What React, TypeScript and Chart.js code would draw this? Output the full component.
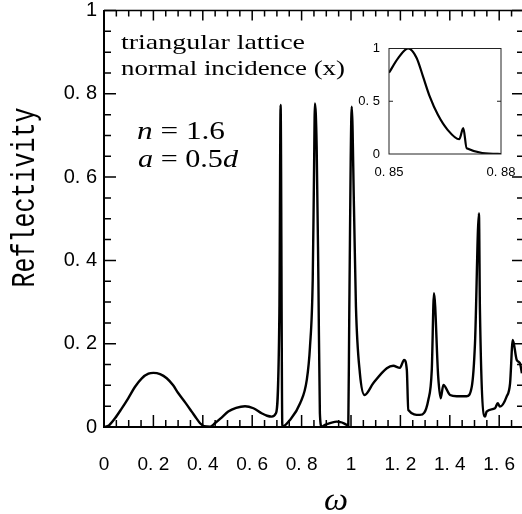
import React, { useEffect, useRef } from 'react';
import { Chart, registerables } from 'chart.js';

Chart.register(...registerables);

// ---- data ----
const mainOmega = [0, 0.02, 0.0445, 0.07, 0.098, 0.125, 0.153, 0.18, 0.2, 0.227, 0.254, 0.28, 0.301, 0.33, 0.355, 0.375, 0.389, 0.405, 0.43, 0.449, 0.475, 0.503, 0.535, 0.571, 0.605, 0.638, 0.66, 0.679, 0.696, 0.71, 0.715, 0.722, 0.753, 0.794, 0.821, 0.834, 0.845, 0.85, 0.854, 0.861, 0.868, 0.874, 0.881, 0.895, 0.942, 0.983, 0.989, 0.993, 1.003, 1.012, 1.02, 1.036, 1.055, 1.09, 1.145, 1.171, 1.198, 1.215, 1.226, 1.232, 1.279, 1.313, 1.327, 1.336, 1.353, 1.363, 1.374, 1.401, 1.428, 1.468, 1.489, 1.502, 1.518, 1.522, 1.543, 1.549, 1.583, 1.594, 1.603, 1.63, 1.644, 1.655, 1.671, 1.684, 1.692];
const mainReflectivity = [0, 0.004, 0.021, 0.043, 0.069, 0.096, 0.117, 0.128, 0.13, 0.127, 0.117, 0.1, 0.081, 0.058, 0.037, 0.02, 0.009, 0.002, 0.001, 0.009, 0.022, 0.037, 0.046, 0.05, 0.045, 0.033, 0.027, 0.025, 0.033, 0.274, 0.773, 0.001, 0.017, 0.057, 0.113, 0.193, 0.353, 0.593, 0.777, 0.673, 0.353, 0.033, 0.001, 0.005, 0.013, 0.005, 0.001, 0.273, 0.769, 0.529, 0.289, 0.129, 0.077, 0.105, 0.141, 0.147, 0.142, 0.161, 0.137, 0.041, 0.029, 0.065, 0.137, 0.321, 0.121, 0.069, 0.101, 0.077, 0.074, 0.074, 0.097, 0.201, 0.513, 0.281, 0.025, 0.037, 0.045, 0.057, 0.049, 0.073, 0.105, 0.209, 0.161, 0.153, 0.129];

const insetOmega = [0.85, 0.8525, 0.8551, 0.8574, 0.8591, 0.8609, 0.8631, 0.8657, 0.8688, 0.8699, 0.8708, 0.88];
const insetReflectivity = [0.77, 0.911, 1.0, 0.911, 0.736, 0.546, 0.371, 0.229, 0.14, 0.245, 0.054, 0.0];

const xTickValues = [0, 0.2, 0.4, 0.6, 0.8, 1, 1.2, 1.4, 1.6];
const yTickValues = [0, 0.2, 0.4, 0.6, 0.8, 1];
const insetXTickValues = [0.85, 0.88];
const insetYTickValues = [0, 0.5, 1];

const X_MIN = 0;
const X_MAX = 1.6923;
const Y_MIN = 0;
const Y_MAX = 1;
const MINOR_STEP = 0.05;

const titleLines = ['triangular lattice', 'normal incidence (x)'];
const yTitle = 'Reflectivity';
const xTitle = 'ω';

function fmt(v: number, digits: number): string {
  if (Math.abs(v - Math.round(v)) < 1e-9) return String(Math.round(v));
  return v.toFixed(digits).replace('.', '. ');
}

type Seg = { t: string; italic?: boolean };

function drawSegments(ctx: CanvasRenderingContext2D, segs: Seg[], x: number, y: number, size: number, family: string, targetWidth: number) {
  ctx.save();
  const fontOf = (s: Seg) => `${s.italic ? 'italic ' : ''}${size}px ${family}`;
  let total = 0;
  for (const s of segs) {
    ctx.font = fontOf(s);
    total += ctx.measureText(s.t).width;
  }
  const sx = targetWidth / total;
  ctx.translate(x, y);
  ctx.scale(sx, 1);
  ctx.textBaseline = 'alphabetic';
  ctx.textAlign = 'left';
  ctx.fillStyle = '#000';
  let cx = 0;
  for (const s of segs) {
    ctx.font = fontOf(s);
    ctx.fillText(s.t, cx, 0);
    cx += ctx.measureText(s.t).width;
  }
  ctx.restore();
}

const mainDecor = {
  id: 'mainDecor',
  afterDraw(chart: any) {
    const { ctx, chartArea } = chart;
    const { left, right, top, bottom } = chartArea;
    const xs = chart.scales.x;
    const ys = chart.scales.y;
    ctx.save();
    ctx.strokeStyle = '#000';
    ctx.lineWidth = 1.5;
    ctx.beginPath();
    ctx.moveTo(left, top);
    ctx.lineTo(right, top);
    ctx.stroke();
    const nx = Math.floor((X_MAX - X_MIN) / MINOR_STEP + 1e-6);
    for (let i = 0; i <= nx; i++) {
      const v = X_MIN + i * MINOR_STEP;
      const px = xs.getPixelForValue(v);
      const major = i % 4 === 0;
      ctx.beginPath();
      ctx.moveTo(px, bottom);
      ctx.lineTo(px, bottom - (major ? 12 : 7));
      ctx.moveTo(px, top);
      ctx.lineTo(px, top + (major ? 10 : 6));
      ctx.stroke();
    }
    const ny = Math.round((Y_MAX - Y_MIN) / MINOR_STEP);
    for (let i = 0; i <= ny; i++) {
      const v = Y_MIN + i * MINOR_STEP;
      const py = ys.getPixelForValue(v);
      const major = i % 4 === 0;
      ctx.beginPath();
      ctx.moveTo(left, py);
      ctx.lineTo(left + (major ? 12 : 7), py);
      ctx.moveTo(right, py);
      ctx.lineTo(right - (major ? 10 : 5), py);
      ctx.stroke();
    }
    ctx.restore();

    drawSegments(ctx, [{ t: titleLines[0] }], 121, 48.5, 22, '"Liberation Serif"', 184);
    drawSegments(ctx, [{ t: titleLines[1] }], 121, 75, 22, '"Liberation Serif"', 224);
    drawSegments(ctx, [{ t: 'n', italic: true }, { t: ' = 1.6' }], 137, 139, 25, '"Liberation Serif"', 88);
    drawSegments(ctx, [{ t: 'a', italic: true }, { t: ' = 0.5' }, { t: 'd', italic: true }], 138, 166.5, 25, '"Liberation Serif"', 100);

    ctx.save();
    ctx.fillStyle = '#000';
    ctx.font = '25px "Liberation Mono"';
    ctx.translate(34, 197.5);
    ctx.rotate(-Math.PI / 2);
    ctx.scale(1, 1.3);
    ctx.textAlign = 'center';
    ctx.textBaseline = 'alphabetic';
    ctx.fillText(yTitle, 0, 0);
    ctx.restore();

    ctx.save();
    ctx.fillStyle = '#000';
    ctx.font = 'italic 31px "Liberation Serif"';
    ctx.textAlign = 'center';
    ctx.textBaseline = 'alphabetic';
    ctx.translate(336, 510);
    ctx.scale(1.1, 1);
    ctx.fillText(xTitle, 0, 0);
    ctx.restore();
  },
};

const insetDecor = {
  id: 'insetDecor',
  afterDraw(chart: any) {
    const { ctx, chartArea } = chart;
    const { left, right, top, bottom } = chartArea;
    const ys = chart.scales.y;
    ctx.save();
    ctx.strokeStyle = '#222';
    ctx.lineWidth = 1;
    ctx.strokeRect(left, top, right - left, bottom - top);
    const py = ys.getPixelForValue(0.5);
    ctx.beginPath();
    ctx.moveTo(left, py);
    ctx.lineTo(left + 4, py);
    ctx.moveTo(right, py);
    ctx.lineTo(right - 4, py);
    ctx.stroke();
    ctx.restore();
  },
};

export default function App() {
  const mainRef = useRef<HTMLCanvasElement>(null);
  const insetRef = useRef<HTMLCanvasElement>(null);

  useEffect(() => {
    const main = new Chart(mainRef.current as HTMLCanvasElement, {
      type: 'line',
      data: {
        datasets: [
          {
            data: mainOmega.map((x, i) => ({ x, y: mainReflectivity[i] })),
            borderColor: '#000',
            borderWidth: 2.4,
            pointRadius: 0,
            fill: false,
            cubicInterpolationMode: 'monotone',
          },
        ],
      },
      options: {
        responsive: false,
        animation: false,
        events: [],
        layout: { padding: { top: 10.5, right: 0, left: 0, bottom: 0 } },
        plugins: { legend: { display: false }, tooltip: { enabled: false } },
        scales: {
          x: {
            type: 'linear',
            min: X_MIN,
            max: X_MAX,
            afterBuildTicks: (s: any) => {
              s.ticks = xTickValues.map((v) => ({ value: v }));
            },
            afterFit: (s: any) => {
              s.height = 87;
              s.paddingLeft = 0;
              s.paddingRight = 0;
            },
            grid: { display: false, drawTicks: false },
            border: { display: true, color: '#000', width: 2 },
            ticks: {
              padding: 26,
              color: '#000',
              autoSkip: false,
              maxRotation: 0,
              font: { family: '"Liberation Sans"', size: 19 },
              callback: (v: any) => fmt(Number(v), 1),
            },
          },
          y: {
            type: 'linear',
            min: Y_MIN,
            max: Y_MAX,
            afterBuildTicks: (s: any) => {
              s.ticks = yTickValues.map((v) => ({ value: v }));
            },
            afterFit: (s: any) => {
              s.width = 104;
              s.paddingTop = 0;
              s.paddingBottom = 0;
            },
            grid: { display: false, drawTicks: false },
            border: { display: true, color: '#000', width: 2 },
            ticks: {
              padding: 7,
              color: '#000',
              autoSkip: false,
              font: { family: '"Liberation Sans"', size: 20 },
              callback: (v: any) => fmt(Number(v), 1),
            },
          },
        },
      },
      plugins: [mainDecor],
    } as any);

    const inset = new Chart(insetRef.current as HTMLCanvasElement, {
      type: 'line',
      data: {
        datasets: [
          {
            data: insetOmega.map((x, i) => ({ x, y: insetReflectivity[i] })),
            borderColor: '#000',
            borderWidth: 2.2,
            pointRadius: 0,
            fill: false,
            cubicInterpolationMode: 'monotone',
          },
        ],
      },
      options: {
        responsive: false,
        animation: false,
        events: [],
        layout: { padding: { top: 18.5, right: 14, left: 0, bottom: 0 } },
        plugins: { legend: { display: false }, tooltip: { enabled: false } },
        scales: {
          x: {
            type: 'linear',
            min: 0.85,
            max: 0.88,
            afterBuildTicks: (s: any) => {
              s.ticks = insetXTickValues.map((v) => ({ value: v }));
            },
            afterFit: (s: any) => {
              s.height = 36;
              s.paddingLeft = 0;
              s.paddingRight = 0;
            },
            grid: { display: false, drawTicks: false },
            border: { display: false },
            ticks: {
              padding: 11,
              color: '#000',
              autoSkip: false,
              maxRotation: 0,
              font: { family: '"Liberation Sans"', size: 13 },
              callback: (v: any) => fmt(Number(v), 2),
            },
          },
          y: {
            type: 'linear',
            min: 0,
            max: 1,
            afterBuildTicks: (s: any) => {
              s.ticks = insetYTickValues.map((v) => ({ value: v }));
            },
            afterFit: (s: any) => {
              s.width = 49;
              s.paddingTop = 0;
              s.paddingBottom = 0;
            },
            grid: { display: false, drawTicks: false },
            border: { display: false },
            ticks: {
              padding: 9,
              color: '#000',
              autoSkip: false,
              font: { family: '"Liberation Sans"', size: 13 },
              callback: (v: any) => fmt(Number(v), 1),
            },
          },
        },
      },
      plugins: [insetDecor],
    } as any);

    return () => {
      main.destroy();
      inset.destroy();
    };
  }, []);

  return (
    <div style={{ position: 'absolute', left: 0, top: 0, width: 522, height: 514, background: '#fff', overflow: 'hidden' }}>
      <canvas ref={mainRef} width={522} height={514} style={{ position: 'absolute', left: 0, top: 0 }} />
      <canvas ref={insetRef} width={175} height={160} style={{ position: 'absolute', left: 340, top: 30 }} />
    </div>
  );
}
